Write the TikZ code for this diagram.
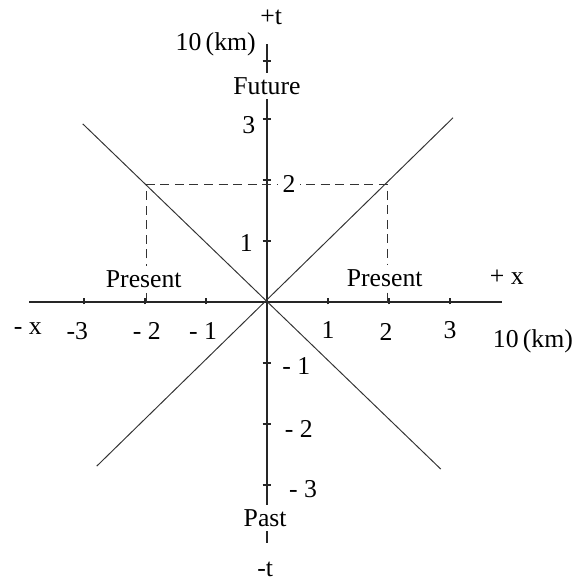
\documentclass[tikz,border=0pt]{standalone}
\usepackage{fontspec}
\setmainfont{Liberation Serif}
\usepackage{tikz}

\begin{document}
\begin{tikzpicture}[
    rotulo/.style={font=\fontsize{12}{14}\selectfont, inner sep=1pt},
    rotuloB/.style={rotulo, fill=white, inner sep=2pt},
    eixo/.style={line width=0.6pt, black!85},
    linha/.style={line width=0.45pt, black!80},
    tracejado/.style={line width=0.6pt, black!80, dash pattern=on 4.2pt off 2.6pt}
  ]
    \useasboundingbox (-4.377,-4.574) rectangle (5.197,4.951);
    % eixos
    \coordinate (xmenos) at (-3.9,0);
    \coordinate (xmais) at (3.85,0);
    \coordinate (ttopo) at (0,4.23);
    \coordinate (tbase) at (0,-3.95);
    \draw[eixo] (xmenos) -- (xmais);
    \draw[eixo] (tbase) -- (ttopo);
    \foreach \i in {-3,-2,-1,1,2,3} \draw[eixo] (\i,-0.04) -- (\i,0.07);
    \foreach \j in {-3,-2,-1,1,2,3,3.95} \draw[eixo] (-0.07,\j) -- (0.07,\j);
    % cone de luz
    \coordinate (c1) at (-3.02,2.92);
    \coordinate (c2) at (2.85,-2.74);
    \coordinate (c3) at (-2.79,-2.69);
    \coordinate (c4) at (3.05,3.02);
    \draw[linha] (c1) -- (c2);
    \draw[linha] (c3) -- (c4);
    % presente
    \coordinate (be) at (-1.97,0);
    \coordinate (pe) at (-1.97,1.93);
    \coordinate (pd) at (1.97,1.93);
    \coordinate (bd) at (1.97,0);
    \draw[tracejado] (be) -- (pe) -- (pd) -- (bd);
    % rotulos
    \node[rotulo] (tmais) at (0.07,4.66) {+t};
    \node[rotulo] (kmt) at (-0.84,4.23) {10\,(km)};
    \node[rotuloB] (futuro) at (0,3.54) {Future};
    \node[rotuloB] (passado) at (-0.03,-3.54) {Past};
    \node[rotulo] (tmenos) at (-0.03,-4.38) {-t};
    \node[rotuloB] (prese) at (-2.02,0.38) {Present};
    \node[rotuloB] (presd) at (1.93,0.39) {Present};
    \node[rotulo] (xm) at (3.93,0.41) {+ x};
    \node[rotulo] (xn) at (-3.92,-0.43) {- x};
    \node[rotulo] (kmx) at (4.36,-0.64) {10\,(km)};
    \node[rotulo] (xa) at (-3.11,-0.48) {-3};
    \node[rotulo] (xb) at (-1.97,-0.48) {- 2};
    \node[rotulo] (xc) at (-1.05,-0.48) {- 1};
    \node[rotulo] (xd) at (1.0,-0.46) {1};
    \node[rotulo] (xe) at (1.95,-0.49) {2};
    \node[rotulo] (xf) at (3.0,-0.46) {3};
    \node[rotulo] (ta) at (-0.3,2.90) {3};
    \node[rotuloB] (tb) at (0.36,1.93) {2};
    \node[rotulo] (tc) at (-0.34,0.97) {1};
    \node[rotulo] (td) at (0.48,-1.05) {- 1};
    \node[rotulo] (te) at (0.52,-2.08) {- 2};
    \node[rotulo] (tf) at (0.59,-3.07) {- 3};
  \end{tikzpicture}
\end{document}
